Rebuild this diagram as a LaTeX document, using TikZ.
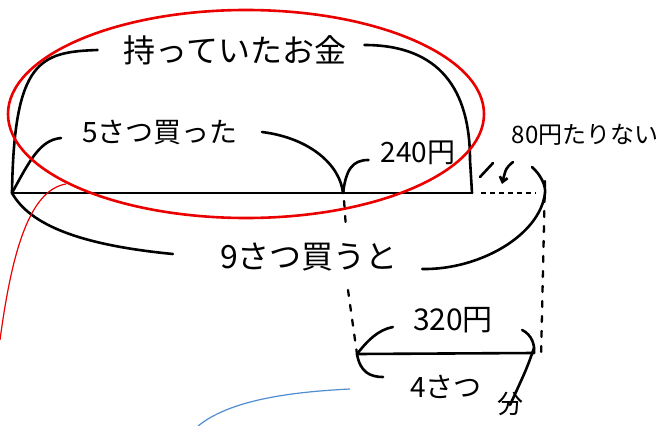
\documentclass[tikz,border=0pt]{standalone}
\usepackage{fontspec}
\newfontfamily\jp{Noto Sans CJK JP}
\usetikzlibrary{arrows.meta}
\definecolor{penblue}{RGB}{80,140,210}
\definecolor{penred}{RGB}{235,0,0}
\begin{document}
\begin{tikzpicture}[x=1pt,y=-1pt,
  hand/.style={line width=2.6pt, line cap=round, line join=round},
  dashv/.style={line width=2.3pt, line cap=round, dash pattern=on 6pt off 9pt},
  lbl/.style={font=\jp\fontsize{#1}{#1}\selectfont, inner sep=0pt}]
\useasboundingbox (0,0) rectangle (660,425);
\fill[white] (0,0) rectangle (660,425);

% points on the lines
\coordinate (A) at (12,193);
\coordinate (B) at (343,193);
\coordinate (C) at (472,193);
\coordinate (D) at (545,193);
\coordinate (E) at (357,354);
\coordinate (F) at (534,353);

% labels
\node[lbl=32] (have) at (235,50) {持っていたお金};
\node[lbl=28] (five) at (160,132) {5さつ買った};
\node[lbl=28] (y240) at (418,153) {240円};
\node[lbl=24] (short) at (585,135) {80円たりない};
\node[lbl=32] (nine) at (309,257) {9さつ買うと};
\node[lbl=30] (y320) at (453,320) {320円};
\node[lbl=28] (four) at (446,387) {4さつ};
\node[lbl=26] (bun) at (510,404) {分};

% main line
\draw[hand] (A) -- (C);
\draw[line width=2pt, dash pattern=on 5pt off 4pt] ([xshift=9pt]C) -- ([xshift=-9pt]D);

% top brace
\draw[hand] (A) .. controls (14,60) and (40,52) .. ([xshift=-26pt]have.west);
\draw[hand] ([shift={(18,-5)}]have.east) .. controls (440,45) and (470,90) .. (470,160) -- (C);

% 5 bought brace
\draw[hand] (A) .. controls (30,160) and (40,140) .. ([shift={(-21,6)}]five.west);
\draw[hand] ([xshift=24pt]five.east) .. controls (310,138) and (340,165) .. (B);
\draw[hand] (B) .. controls (346,170) and (352,160) .. ([shift={(-12,7)}]y240.west);

% small brace over dashed part
\coordinate (s1) at (480,177);
\coordinate (s2) at (493,163);
\coordinate (r1) at (532,167);
\coordinate (ar1) at (513,162);
\coordinate (ar2) at (502,184);
\draw[hand] (s1) -- (s2);
\draw[hand, -{Straight Barb[length=5pt,width=8pt]}] (ar1) .. controls (506,168) .. (ar2);

% 9 brace
\draw[hand] (A) .. controls (30,225) and (80,245) .. ([shift={(-47,-3)}]nine.west);
\draw[hand] (r1) .. controls (541,175) and (546,186) .. (D)
  .. controls (540,235) and (480,270) .. ([shift={(24,12)}]nine.east);

% dashed verticals
\draw[dashv] ([yshift=7pt]B) -- (346,228);
\draw[dashv] (348,290) -- (E);
\draw[dashv] ([yshift=12pt]D) -- (541,358);

% bottom segment
\draw[hand] (E) -- (F);
\draw[hand] (E) .. controls (368,340) and (378,330) .. ([shift={(-20,7)}]y320.west);
\draw[hand] ([shift={(29,10)}]y320.east) .. controls (532,335) and (535,345) .. (F);
\draw[hand] (E) .. controls (360,372) and (370,377) .. ([shift={(-27,-10)}]four.west);
\draw[hand] ([yshift=5pt]F) .. controls (527,368) .. ([yshift=-13pt]bun.north);

% overlay marks
\draw[penblue, line width=1.2pt] (198,426) .. controls (230,400) and (290,392) .. (350,389);
\draw[penred, line width=1.2pt] (0,340) .. controls (12,250) and (30,190) .. (66,184);
\draw[penred, line width=2.6pt] (246,114) ellipse [x radius=238pt, y radius=104pt];
\end{tikzpicture}
\end{document}
